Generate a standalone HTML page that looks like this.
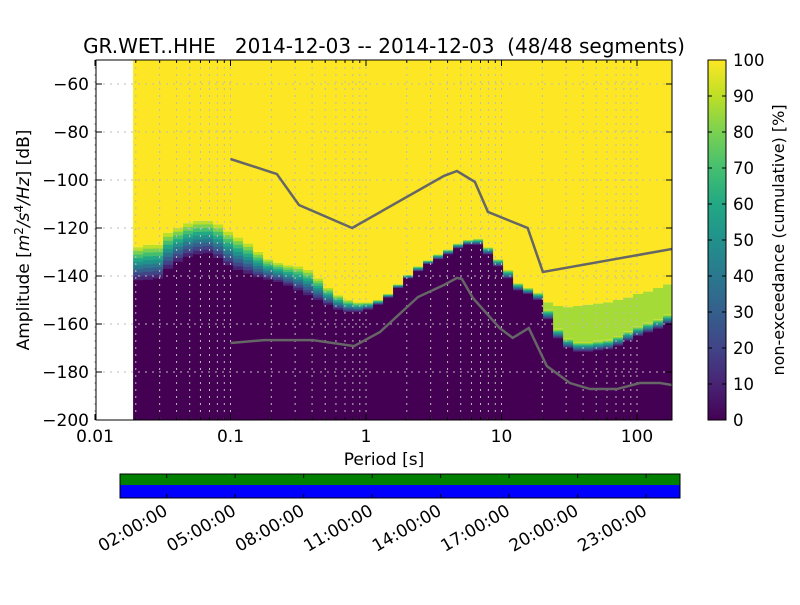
<!DOCTYPE html>
<html><head><meta charset="utf-8"><style>
body{margin:0;background:#fff;}
svg text{font-family:"DejaVu Sans","Liberation Sans",sans-serif;fill:#000;}
</style></head><body>
<svg id="c" width="800" height="600" viewBox="0 0 800 600" xmlns="http://www.w3.org/2000/svg">
<defs>
<linearGradient id="vir" x1="0" y1="1" x2="0" y2="0">
<stop offset="0" stop-color="#440154"/><stop offset="0.1" stop-color="#482475"/><stop offset="0.2" stop-color="#414487"/><stop offset="0.3" stop-color="#355f8d"/><stop offset="0.4" stop-color="#2a788e"/><stop offset="0.5" stop-color="#21918c"/><stop offset="0.6" stop-color="#22a884"/><stop offset="0.7" stop-color="#44bf70"/><stop offset="0.8" stop-color="#7ad151"/><stop offset="0.9" stop-color="#bddf26"/><stop offset="1" stop-color="#fde725"/>
</linearGradient>
<clipPath id="pc"><rect x="96" y="60" width="576" height="360"/></clipPath>
</defs>
<text x="384" y="53" font-size="20" text-anchor="middle" style="white-space:pre">GR.WET..HHE   2014-12-03 -- 2014-12-03  (48/48 segments)</text>
<g id="heat" clip-path="url(#pc)"></g>
<g id="grid"></g>
<g id="lines" clip-path="url(#pc)"></g>
<rect x="96" y="60" width="576" height="360" fill="none" stroke="#000" stroke-width="1"/>
<g id="axes"></g>
<text x="384" y="465" font-size="17" text-anchor="middle">Period [s]</text>
<text transform="translate(29,240) rotate(-90)" font-size="17" text-anchor="middle">Amplitude [<tspan font-style="italic">m</tspan><tspan font-size="12" dy="-6">2</tspan><tspan dy="6" font-style="italic">/s</tspan><tspan font-size="12" dy="-6">4</tspan><tspan dy="6" font-style="italic">/Hz</tspan>] [dB]</text>
<rect x="708" y="60" width="18" height="360" fill="url(#vir)" stroke="#000"/>
<g id="cbar"></g>
<text transform="translate(784,240) rotate(-90)" font-size="16" text-anchor="middle">non-exceedance (cumulative) [%]</text>
<rect x="120" y="474" width="560" height="11" fill="#008000"/>
<rect x="120" y="485" width="560" height="13" fill="#0000ff"/>
<rect x="120" y="474" width="560" height="24" fill="none" stroke="#000"/>
<g id="tl"></g>
</svg>
<script>
const colStartPeriod = 0.0191;
const colStepPx = 10;
const darkTop = [-141.7,-141.5,-141,-137,-134,-132,-131,-130.5,-132.5,-135.5,-137.5,-139,-140.5,-141.5,-142.5,-144,-146,-148,-150,-152,-154,-155,-155,-154,-152,-149,-145,-141,-138,-135,-133,-131,-128.5,-127,-127,-131,-136,-141,-146,-147.5,-150,-158,-166,-170,-171.5,-171.5,-171,-170.5,-169,-167,-165,-163.5,-162,-160];
const yellowBottom = [-128,-127,-127,-122,-120,-118,-117,-117,-118.5,-121.5,-124,-126.5,-130,-133,-134.5,-135.5,-136,-137.5,-141,-145,-148,-150,-151,-151,-150,-147.5,-143.5,-139.5,-136,-133.5,-131,-129,-126.5,-125,-124.5,-128,-133,-137.5,-143,-145,-147,-151,-152.5,-153,-152.5,-152,-151.5,-151,-150,-149,-147.5,-146.5,-145,-143.5];
const gradeWidth = [99,99,99,99,99,99,99,99,99,99,99,99,99,99,99,99,99,99,99,99,99,99,99,99,99,99,99,99,99,99,99,99,99,99,99,99,99,99,99,99,4,4,4,4,4,4,4,4,4,4,4,4,4,4];
const highPeriods = [0.1,0.22,0.32,0.79,3.76,4.69,6.36,7.94,15.6,20.2,181];
const highDb = [-91.25,-97.5,-110.4,-120,-98.3,-96.25,-100.8,-113.3,-120,-138.3,-128.75];
const lowPeriods = [0.1,0.177,0.406,0.816,1.27,2.42,3.76,4.69,5.1,6.16,9.7,12.1,15.9,21.6,32,45,71,105,148,181];
const lowDb = [-167.9,-166.7,-166.7,-169.2,-163.3,-148.75,-143.75,-140.8,-141.25,-149.2,-161.7,-165.8,-161.7,-177.5,-184.6,-187.1,-187.1,-184.6,-184.6,-185.4];
const yTicks = [-60,-80,-100,-120,-140,-160,-180,-200];
const xTicks = [0.01,0.1,1,10,100];
const xTickLabels = ['0.01','0.1','1','10','100'];
const cbTicks = [0,10,20,30,40,50,60,70,80,90,100];
const timeTicks = ['02:00:00','05:00:00','08:00:00','11:00:00','14:00:00','17:00:00','20:00:00','23:00:00'];
const timeHours = [2,5,8,11,14,17,20,23];

const NS='http://www.w3.org/2000/svg';
const X = p => 366 + 135.5*Math.log10(p);
const Y = d => 60 + (-50 - d)*2.4;
const CB = v => 420 - v*3.6;
const T = h => 120 + (h + 0.045)*22.83;
function mk(tag, attrs, parent){const e=document.createElementNS(NS,tag);for(const k in attrs)e.setAttribute(k,attrs[k]);parent.appendChild(e);return e;}
const heat=document.getElementById('heat');
const gradeCols=['#bddf26','#7ad151','#44bf70','#22a884','#21918c','#2a788e','#355f8d','#414487','#482475'];
darkTop.forEach((dt,i)=>{
  const x0 = X(colStartPeriod)+i*colStepPx, w=colStepPx+0.5;
  const yb=yellowBottom[i];
  let r=mk('rect',{x:x0,y:60,width:w,height:Math.max(0,Y(yb)-60),fill:'#fde725'},heat);
  
  
  const gTop=Math.min(yb, dt+gradeWidth[i]);
  if(gTop<yb){
    r=mk('rect',{x:x0,y:Y(yb),width:w,height:Y(gTop)-Y(yb),fill:'#a5db36'},heat);
    
    
  }
  const n=gradeCols.length, h=Math.max(0,(Y(dt)-Y(gTop))/n);
  gradeCols.forEach((c,k)=>{
    r=mk('rect',{x:x0,y:Y(gTop)+k*h,width:w,height:h+0.3,fill:c},heat);
    
    
  });
  r=mk('rect',{x:x0,y:Y(dt),width:w,height:Math.max(0,420-Y(dt)),fill:'#440154'},heat);
  
  
});
const grid=document.getElementById('grid'), axes=document.getElementById('axes');
for(let e=-2;e<=2;e++)for(let m=1;m<=9;m++){
  const p=m*Math.pow(10,e), x=X(p); if(x>672)continue;
  const l=mk('line',{x1:x,x2:x,y1:60,y2:420,stroke:'#bbb','stroke-dasharray':'2,5','stroke-width':1},grid);
  
  
  const len=m==1?6:3;
  mk('line',{x1:x,x2:x,y1:420,y2:420-len,stroke:'#000'},axes);
  mk('line',{x1:x,x2:x,y1:60,y2:60+len,stroke:'#000'},axes);
}
yTicks.forEach(v=>{
  const y=Y(v);
  const l=mk('line',{x1:96,x2:672,y1:y,y2:y,stroke:'#bbb','stroke-dasharray':'2,5'},grid);
  
  
  mk('line',{x1:96,x2:102,y1:y,y2:y,stroke:'#000'},axes);
  mk('line',{x1:666,x2:672,y1:y,y2:y,stroke:'#000'},axes);
  const t=mk('text',{x:89,y:y+6,'font-size':17,'text-anchor':'end'},axes);
  t.textContent='\u2212'+Math.abs(v);
  
  
});
xTicks.forEach((p,i)=>{
  const t=mk('text',{x:X(p),y:442,'font-size':17,'text-anchor':'middle'},axes);
  t.textContent=xTickLabels[i];
  
  
});
const lines=document.getElementById('lines');
function poly(ps,ds,name){
  const pl=mk('polyline',{points:ps.map((p,i)=>X(p)+','+Y(ds[i])).join(' '),fill:'none',stroke:'#666','stroke-width':2.5},lines);
  
  
}
poly(highPeriods,highDb,'high-noise-model');
poly(lowPeriods,lowDb,'low-noise-model');
const cb=document.getElementById('cbar');
cbTicks.forEach(v=>{
  const y=CB(v);
  mk('line',{x1:708,x2:712,y1:y,y2:y,stroke:'#000'},cb);
  mk('line',{x1:722,x2:726,y1:y,y2:y,stroke:'#000'},cb);
  const t=mk('text',{x:733,y:y+6,'font-size':16.5},cb);
  t.textContent=v;
  
  
});
const tl=document.getElementById('tl');
timeHours.forEach((h,i)=>{
  const x=T(h);
  mk('line',{x1:x,x2:x,y1:474,y2:478,stroke:'#000'},tl);
  mk('line',{x1:x,x2:x,y1:494,y2:498,stroke:'#000'},tl);
  const t=mk('text',{transform:`translate(${x+2},514) rotate(-30)`,'font-size':17,'text-anchor':'end'},tl);
  t.textContent=timeTicks[i];
  
  
});
</script>
</body></html>
